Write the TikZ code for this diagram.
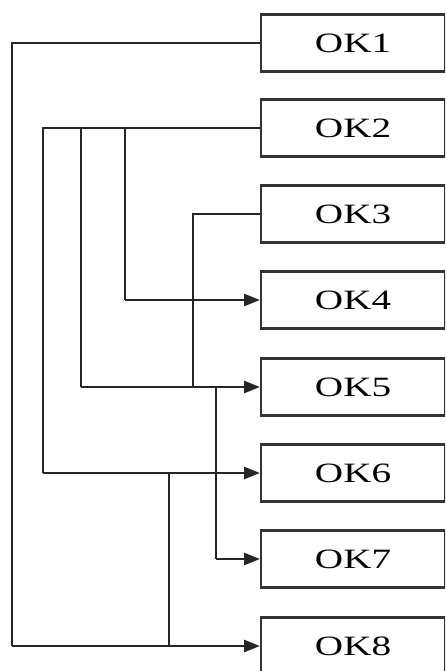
\documentclass[tikz,border=0pt]{standalone}
\usepackage{fontspec}
\setmainfont{Liberation Serif}
\usetikzlibrary{arrows.meta}
\begin{document}
\begin{tikzpicture}[x=1pt,y=-1pt,
  blk/.style={draw=black!80, line width=2.2pt, rectangle, minimum width=184pt,
    minimum height=57pt, anchor=west, inner sep=0pt,
    font=\fontsize{28}{28}\selectfont},
  wire/.style={draw=black!85, line width=2.7pt},
  feed/.style={wire, -{Triangle[length=16pt,width=12pt]}}]
\useasboundingbox (0,0) rectangle (445,671);
\clip (0,0) rectangle (445,671);

% operation blocks
\foreach \i/\y in {1/43,2/128,3/214,4/300,5/387,6/473,7/559,8/646}
  \node[blk] (ok\i) at (260,\y) {\scalebox{1.4}[1]{OK\i}};

% bus coordinates
\coordinate (a1) at (12,43);
\coordinate (a8) at (12,646);
\coordinate (b0) at (43,128);
\coordinate (b6) at (43,473);
\coordinate (c0) at (81,128);
\coordinate (c5) at (81,387);
\coordinate (d0) at (125,128);
\coordinate (d4) at (125,300);
\coordinate (e0) at (193,214);
\coordinate (e5) at (193,387);
\coordinate (f5) at (216,387);
\coordinate (f7) at (216,559);
\coordinate (g6) at (169,473);
\coordinate (g8) at (169,646);

% OK1 -> OK8
\draw[wire] (ok1.west) -- (a1) -- (a8);
\draw[feed] (a8) -- (ok8.west);
% OK2 -> OK4, OK5, OK6
\draw[wire] (ok2.west) -- (b0) -- (b6);
\draw[feed] (b6) -- (ok6.west);
\draw[wire] (c0) -- (c5);
\draw[feed] (c5) -- (ok5.west);
\draw[wire] (d0) -- (d4);
\draw[feed] (d4) -- (ok4.west);
% OK3 -> OK5
\draw[wire] (ok3.west) -- (e0) -- (e5);
% OK5 -> OK7
\draw[wire] (f5) -- (f7);
\draw[feed] (f7) -- (ok7.west);
% OK6 -> OK8
\draw[wire] (g6) -- (g8);
\end{tikzpicture}
\end{document}
